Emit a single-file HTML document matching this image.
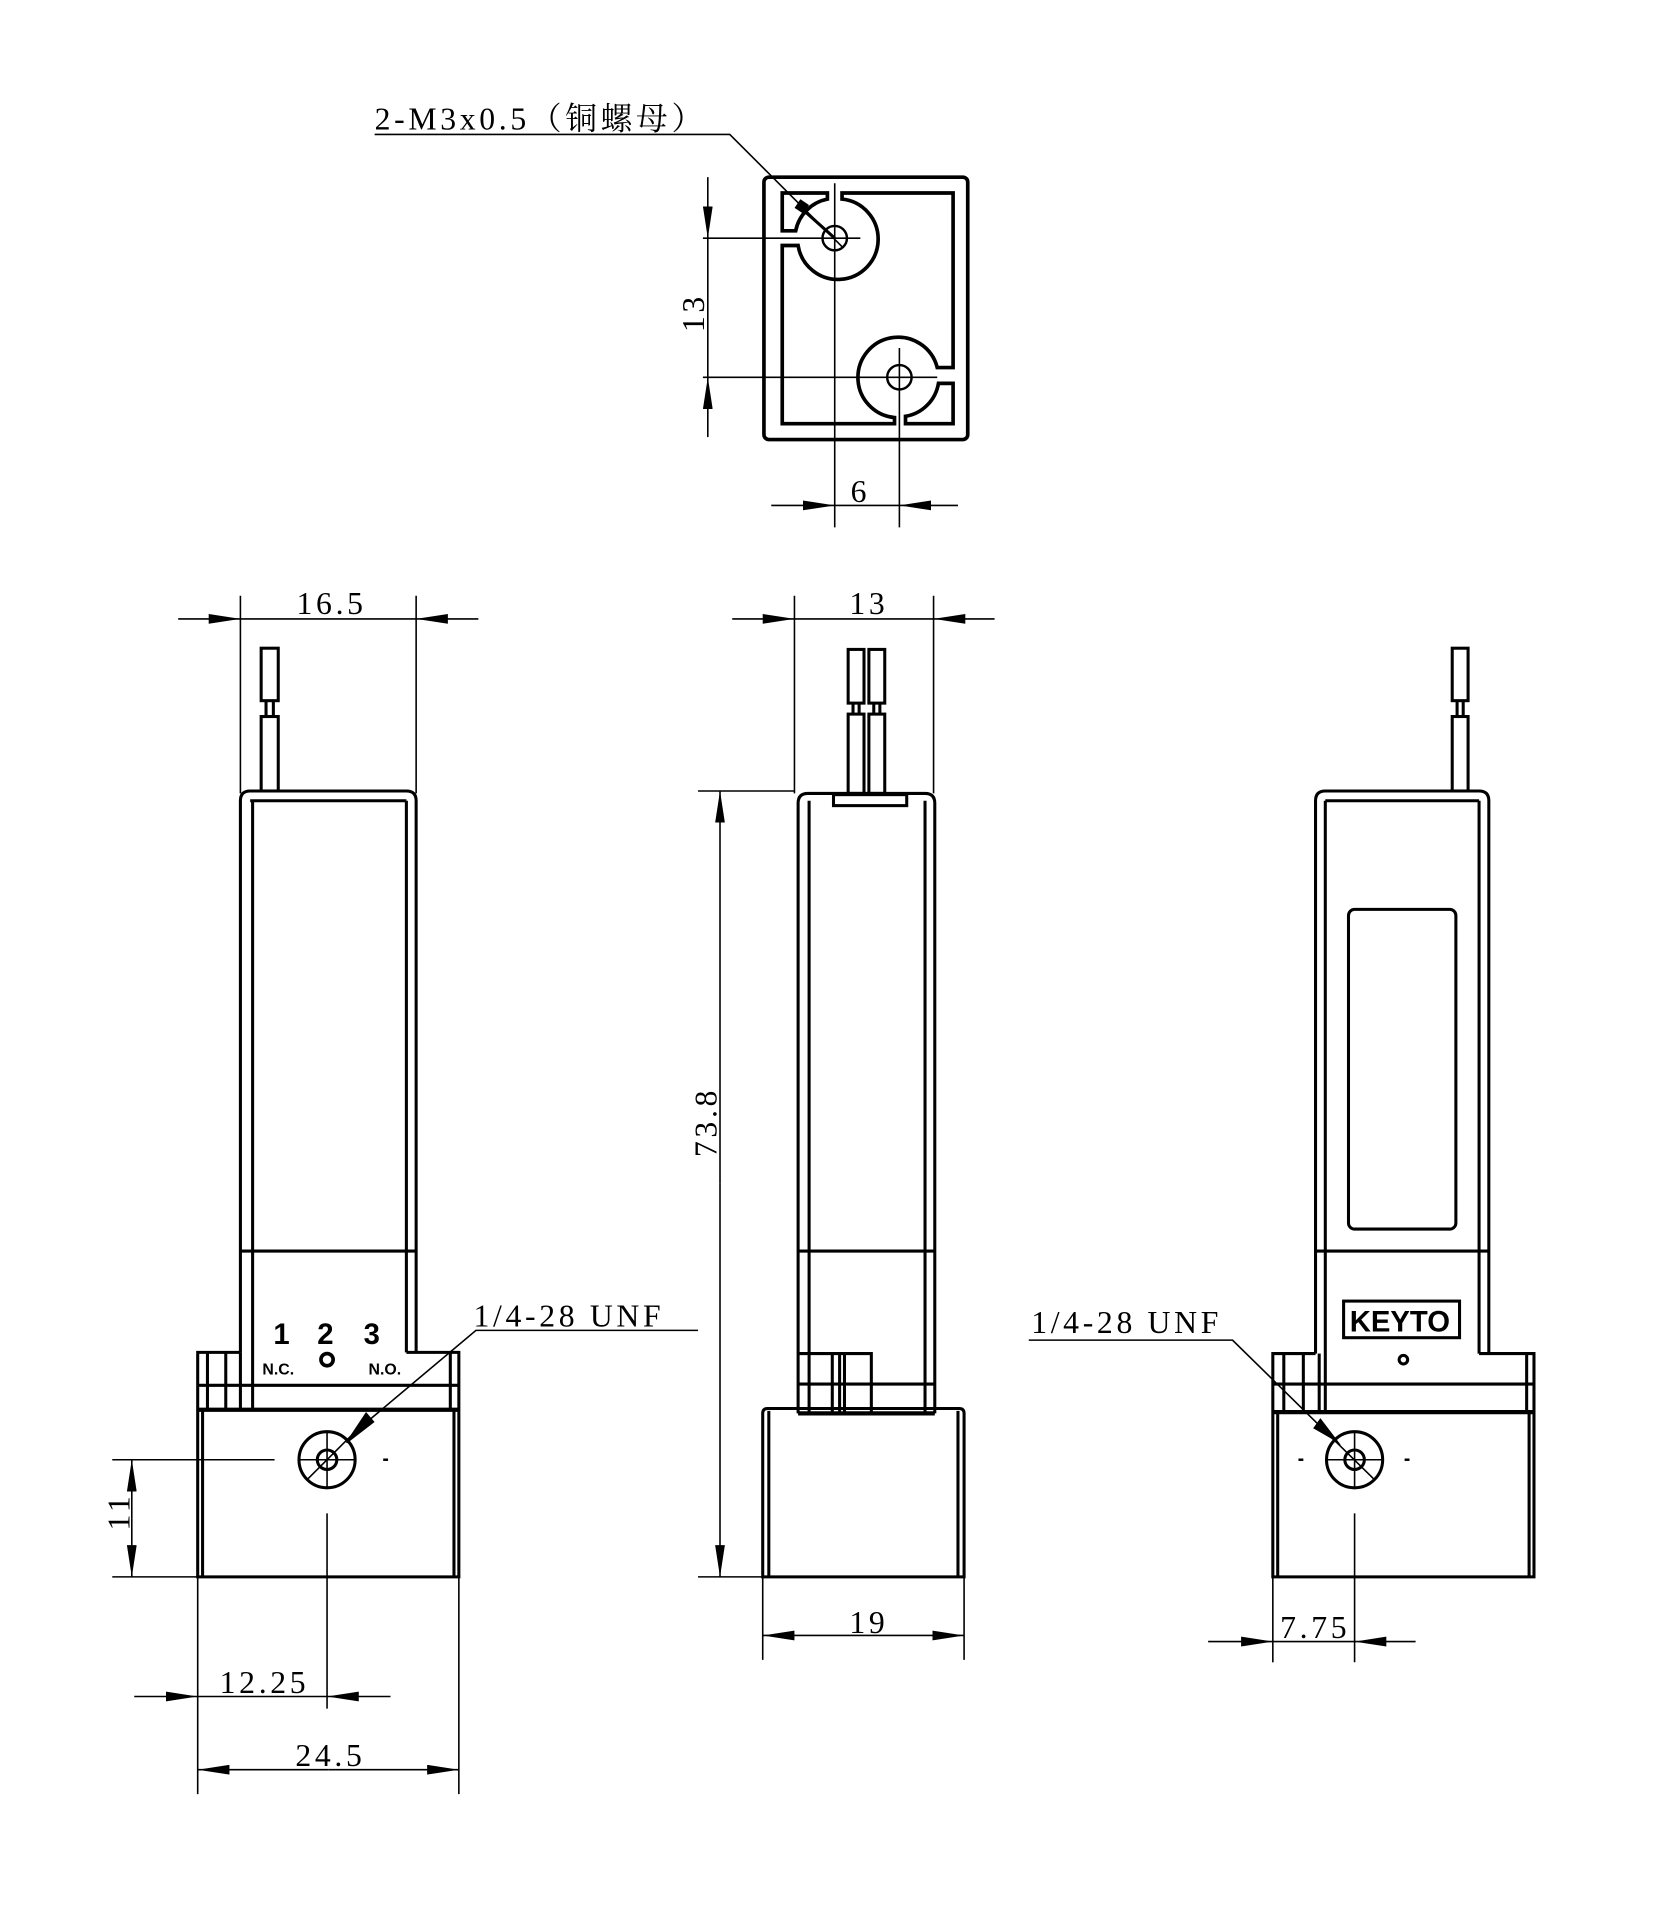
<!DOCTYPE html>
<html><head><meta charset="utf-8"><style>
html,body{margin:0;padding:0;background:#fff}
svg{display:block}
text{font-family:"Liberation Serif","Noto Serif CJK SC",serif;fill:#000}
</style></head><body>
<svg width="1667" height="1920" viewBox="0 0 1366 1573" xmlns="http://www.w3.org/2000/svg">
<defs>
<marker id="a" markerUnits="userSpaceOnUse" markerWidth="26" markerHeight="8" viewBox="0 0 26 8" refX="26" refY="4" orient="auto"><path d="M0,0 L26,4 L0,8 z" fill="#000"/></marker>
</defs>
<g fill="none" stroke="#000" stroke-width="1.3">
<!-- TOP VIEW -->
<rect x="626" y="145" width="167" height="215" rx="4" stroke-width="3"/>
<path d="M690,158 L781,158 L781,301 L768,301 A33,33 0 1 0 733,342 L733,347 L641,347 L641,201 L654,201 A33,33 0 1 0 690,163 Z" stroke-width="3"/>
<path d="M641,158 L678,158 L678,163 A33,33 0 0 0 652,189 L641,189 Z" stroke-width="3"/>
<path d="M742,347 L781,347 L781,314 L769,314 A33,33 0 0 1 742,341 Z" stroke-width="3"/>
<circle cx="684" cy="195" r="10" stroke-width="2"/>
<circle cx="737" cy="309" r="10" stroke-width="2"/>
<line x1="576" y1="195" x2="705" y2="195"/>
<line x1="576" y1="309" x2="768" y2="309"/>
<line x1="684" y1="150" x2="684" y2="432"/>
<line x1="737" y1="285" x2="737" y2="432"/>
<line x1="580" y1="145" x2="580" y2="195" marker-end="url(#a)"/>
<line x1="580" y1="358" x2="580" y2="309" marker-end="url(#a)"/>
<line x1="580" y1="195" x2="580" y2="309"/>
<line x1="632" y1="414" x2="684" y2="414" marker-end="url(#a)"/>
<line x1="785" y1="414" x2="737" y2="414" marker-end="url(#a)"/>
<line x1="684" y1="414" x2="737" y2="414"/>
<polyline points="307,110 598,110 690,202"/>
<polygon points="656,164 662,168 658,174 652,170" fill="#000"/>
<line x1="655" y1="169" x2="684" y2="195" stroke-width="2.5"/>

<!-- LEFT VIEW -->
<line x1="197" y1="488" x2="197" y2="650"/>
<line x1="341" y1="488" x2="341" y2="650"/>
<line x1="146" y1="507" x2="197" y2="507" marker-end="url(#a)"/>
<line x1="392" y1="507" x2="341" y2="507" marker-end="url(#a)"/>
<line x1="197" y1="507" x2="341" y2="507"/>
<g stroke-width="2.5">
<rect x="214" y="531" width="14" height="43"/>
<line x1="218" y1="574" x2="218" y2="587"/><line x1="224" y1="574" x2="224" y2="587"/>
<rect x="214" y="587" width="14" height="61"/>
<path d="M197,1108 L197,656 Q197,648 205,648 L333,648 Q341,648 341,656 L341,1108"/>
<line x1="207" y1="656" x2="207" y2="1155"/>
<line x1="333" y1="656" x2="333" y2="1108"/>
<line x1="205" y1="656" x2="333" y2="656"/>
<line x1="197" y1="1025" x2="341" y2="1025"/>
<line x1="197" y1="1108" x2="197" y2="1155"/>
<path d="M197,1108 L162,1108 L162,1292 L376,1292 L376,1108 L333,1108"/>
<line x1="170" y1="1108" x2="170" y2="1155"/>
<line x1="185" y1="1108" x2="185" y2="1155"/>
<line x1="369" y1="1108" x2="369" y2="1155"/>
<line x1="162" y1="1135" x2="376" y2="1135"/>
<line x1="162" y1="1155" x2="376" y2="1155" stroke-width="3.5"/>
<line x1="166" y1="1155" x2="166" y2="1292"/>
<line x1="372" y1="1155" x2="372" y2="1292"/>
<circle cx="268" cy="1196" r="23"/>
<circle cx="268" cy="1196" r="8"/>
</g>
<line x1="245" y1="1196" x2="291" y2="1196"/>
<line x1="268" y1="1173" x2="268" y2="1219"/>
<line x1="251" y1="1213" x2="290" y2="1174"/>
<polyline points="290,1174 390,1090 572,1090"/>
<polygon points="284,1182 300,1158 306,1165" fill="#000"/>
<line x1="92" y1="1196" x2="225" y2="1196"/>
<line x1="314" y1="1196" x2="318" y2="1196" stroke-width="2"/>
<line x1="268" y1="1240" x2="268" y2="1400"/>
<line x1="92" y1="1292" x2="162" y2="1292"/>
<line x1="108" y1="1244" x2="108" y2="1196" marker-end="url(#a)"/>
<line x1="108" y1="1244" x2="108" y2="1292" marker-end="url(#a)"/>
<line x1="110" y1="1390" x2="162" y2="1390" marker-end="url(#a)"/>
<line x1="320" y1="1390" x2="268" y2="1390" marker-end="url(#a)"/>
<line x1="162" y1="1390" x2="268" y2="1390"/>
<line x1="162" y1="1292" x2="162" y2="1470"/>
<line x1="376" y1="1292" x2="376" y2="1470"/>
<line x1="269" y1="1450" x2="162" y2="1450" marker-end="url(#a)"/>
<line x1="269" y1="1450" x2="376" y2="1450" marker-end="url(#a)"/>

<!-- MIDDLE VIEW -->
<line x1="651" y1="488" x2="651" y2="650"/>
<line x1="765" y1="488" x2="765" y2="650"/>
<line x1="600" y1="507" x2="651" y2="507" marker-end="url(#a)"/>
<line x1="815" y1="507" x2="765" y2="507" marker-end="url(#a)"/>
<line x1="651" y1="507" x2="765" y2="507"/>
<g stroke-width="2.5">
<rect x="695" y="532" width="13" height="44"/>
<rect x="712" y="532" width="13" height="44"/>
<line x1="699" y1="576" x2="699" y2="585"/><line x1="704" y1="576" x2="704" y2="585"/>
<line x1="716" y1="576" x2="716" y2="585"/><line x1="721" y1="576" x2="721" y2="585"/>
<rect x="695" y="585" width="13" height="65"/>
<rect x="712" y="585" width="13" height="65"/>
<path d="M654,1158 L654,658 Q654,650 662,650 L758,650 Q766,650 766,658 L766,1158"/>
<line x1="663" y1="656" x2="663" y2="1158"/>
<line x1="758" y1="656" x2="758" y2="1158"/>
<rect x="683" y="651" width="60" height="9"/>
<line x1="654" y1="1025" x2="766" y2="1025"/>
<path d="M654,1109 L714,1109 L714,1158"/>
<line x1="682" y1="1109" x2="682" y2="1158"/>
<line x1="688" y1="1109" x2="688" y2="1158"/>
<line x1="692" y1="1109" x2="692" y2="1158"/>
<line x1="654" y1="1134" x2="766" y2="1134"/>
<line x1="654" y1="1158" x2="766" y2="1158" stroke-width="3.5"/>
<path d="M625,1292 L625,1158 Q625,1154 629,1154 L786,1154 Q790,1154 790,1158 L790,1292 Z"/>
<line x1="630" y1="1156" x2="630" y2="1292"/>
<line x1="785" y1="1156" x2="785" y2="1292"/>
</g>
<line x1="572" y1="648" x2="651" y2="648"/>
<line x1="572" y1="1292" x2="625" y2="1292"/>
<line x1="590" y1="970" x2="590" y2="648" marker-end="url(#a)"/>
<line x1="590" y1="970" x2="590" y2="1292" marker-end="url(#a)"/>
<line x1="625" y1="1292" x2="625" y2="1360"/>
<line x1="790" y1="1292" x2="790" y2="1360"/>
<line x1="708" y1="1340" x2="625" y2="1340" marker-end="url(#a)"/>
<line x1="708" y1="1340" x2="790" y2="1340" marker-end="url(#a)"/>

<!-- RIGHT VIEW -->
<g stroke-width="2.5">
<rect x="1190" y="531" width="13" height="43"/>
<line x1="1194" y1="574" x2="1194" y2="587"/><line x1="1199" y1="574" x2="1199" y2="587"/>
<rect x="1190" y="587" width="13" height="61"/>
<path d="M1078,1109 L1078,656 Q1078,648 1086,648 L1212,648 Q1220,648 1220,656 L1220,1109"/>
<line x1="1086" y1="656" x2="1086" y2="1158"/>
<line x1="1212" y1="656" x2="1212" y2="1109"/>
<line x1="1086" y1="656" x2="1212" y2="656"/>
<rect x="1105" y="745" width="88" height="262" rx="5"/>
<line x1="1078" y1="1025" x2="1220" y2="1025"/>
<rect x="1101" y="1066" width="95" height="30"/>
<circle cx="1150" cy="1114" r="3.5"/>
<path d="M1078,1109 L1043,1109 L1043,1292 L1257,1292 L1257,1109 L1212,1109"/>
<line x1="1052" y1="1109" x2="1052" y2="1158"/>
<line x1="1068" y1="1109" x2="1068" y2="1158"/>
<line x1="1081" y1="1109" x2="1081" y2="1158"/>
<line x1="1251" y1="1109" x2="1251" y2="1158"/>
<line x1="1043" y1="1134" x2="1257" y2="1134"/>
<line x1="1043" y1="1157" x2="1257" y2="1157" stroke-width="3.5"/>
<line x1="1047" y1="1157" x2="1047" y2="1292"/>
<line x1="1253" y1="1157" x2="1253" y2="1292"/>
<circle cx="1110" cy="1196" r="23"/>
<circle cx="1110" cy="1196" r="8"/>
</g>
<line x1="1087" y1="1196" x2="1133" y2="1196"/>
<line x1="1110" y1="1173" x2="1110" y2="1219"/>
<polyline points="843,1098 1010,1098 1126,1212"/>
<polygon points="1082,1163 1098,1184 1091,1178 1077,1170" fill="#000"/>
<line x1="1064" y1="1196" x2="1068" y2="1196" stroke-width="2"/>
<line x1="1151" y1="1196" x2="1155" y2="1196" stroke-width="2"/>
<line x1="1110" y1="1240" x2="1110" y2="1362"/>
<line x1="1043" y1="1292" x2="1043" y2="1362"/>
<line x1="990" y1="1345" x2="1043" y2="1345" marker-end="url(#a)"/>
<line x1="1160" y1="1345" x2="1110" y2="1345" marker-end="url(#a)"/>
<line x1="1043" y1="1345" x2="1110" y2="1345"/>
</g>

<g font-size="26" letter-spacing="3">
<text x="307" y="106">2-M3x0.5（铜螺母）</text>
<text x="0" y="0" transform="translate(577,272) rotate(-90)">13</text>
<text x="697" y="411">6</text>
<text x="243" y="503">16.5</text>
<text x="696" y="503">13</text>
<text x="388" y="1087">1/4-28 UNF</text>
<text x="845" y="1092">1/4-28 UNF</text>
<text x="0" y="0" transform="translate(106,1254) rotate(-90)">11</text>
<text x="180" y="1387">12.25</text>
<text x="242" y="1447">24.5</text>
<text x="0" y="0" transform="translate(587,948) rotate(-90)">73.8</text>
<text x="696" y="1338">19</text>
<text x="1049" y="1342">7.75</text>
</g>
<g font-weight="bold">
<text x="224" y="1101" font-size="24" style="font-family:'Liberation Sans',sans-serif">1</text>
<text x="260" y="1101" font-size="24" style="font-family:'Liberation Sans',sans-serif">2</text>
<text x="298" y="1101" font-size="24" style="font-family:'Liberation Sans',sans-serif">3</text>
<text x="215" y="1126" font-size="13" style="font-family:'Liberation Sans',sans-serif">N.C.</text>
<text x="302" y="1126" font-size="13" style="font-family:'Liberation Sans',sans-serif">N.O.</text>
<text x="1106" y="1091" font-size="24" style="font-family:'Liberation Sans',sans-serif">KEYTO</text>
</g>
<circle cx="268" cy="1114" r="5" fill="none" stroke="#000" stroke-width="3"/>
</svg>
</body></html>
